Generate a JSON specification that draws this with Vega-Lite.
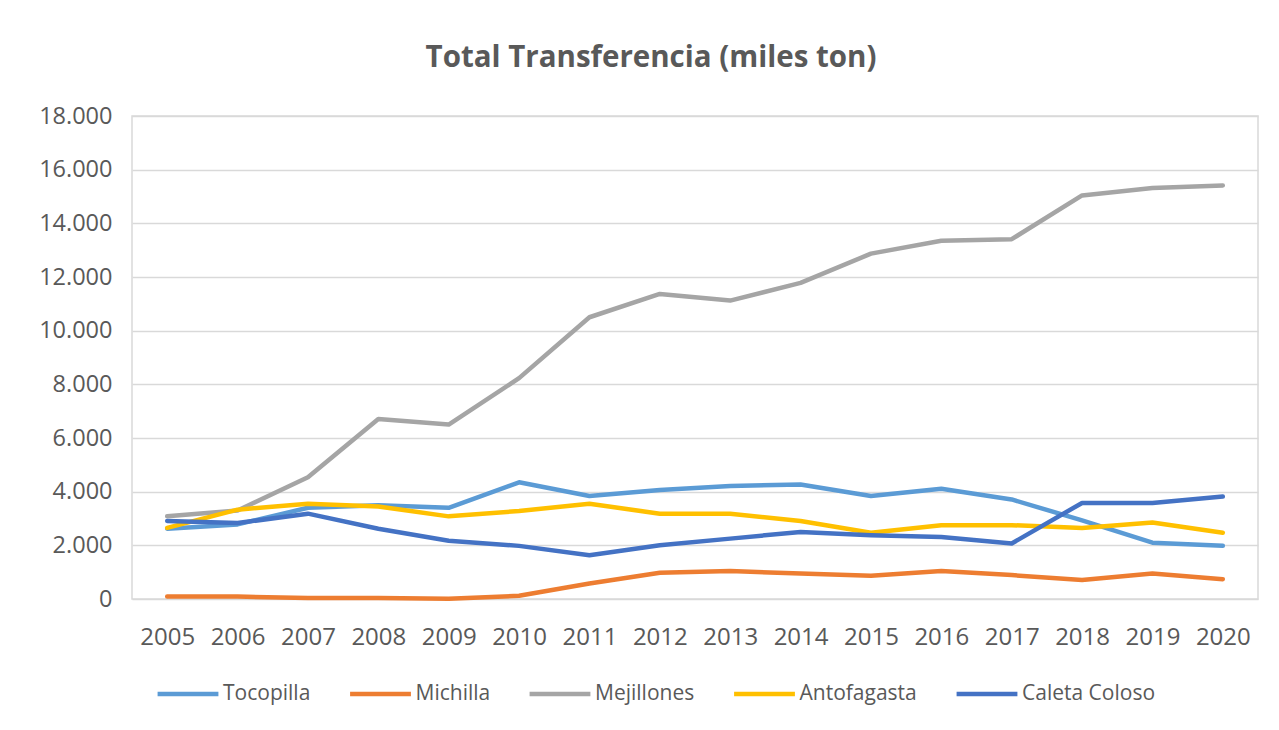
{
  "$schema": "https://vega.github.io/schema/vega-lite/v6.json",
  "autosize": "none",
  "width": 1126,
  "height": 483,
  "padding": {"left": 132, "top": 116, "right": 21, "bottom": 131},
  "background": "white",
  "title": {
    "text": "Total Transferencia (miles ton)",
    "font": "Open Sans",
    "fontSize": 29.5,
    "fontWeight": "bold",
    "color": "#595959",
    "anchor": "middle",
    "dx": -44,
    "offset": 31
  },
  "data": {
    "values": [
      {"year": "2005", "serie": "Tocopilla", "v": 2620},
      {"year": "2006", "serie": "Tocopilla", "v": 2780},
      {"year": "2007", "serie": "Tocopilla", "v": 3400},
      {"year": "2008", "serie": "Tocopilla", "v": 3490},
      {"year": "2009", "serie": "Tocopilla", "v": 3400},
      {"year": "2010", "serie": "Tocopilla", "v": 4350},
      {"year": "2011", "serie": "Tocopilla", "v": 3840},
      {"year": "2012", "serie": "Tocopilla", "v": 4060},
      {"year": "2013", "serie": "Tocopilla", "v": 4210},
      {"year": "2014", "serie": "Tocopilla", "v": 4270},
      {"year": "2015", "serie": "Tocopilla", "v": 3840},
      {"year": "2016", "serie": "Tocopilla", "v": 4110},
      {"year": "2017", "serie": "Tocopilla", "v": 3710},
      {"year": "2018", "serie": "Tocopilla", "v": 2930},
      {"year": "2019", "serie": "Tocopilla", "v": 2100},
      {"year": "2020", "serie": "Tocopilla", "v": 1980},
      {"year": "2005", "serie": "Michilla", "v": 90},
      {"year": "2006", "serie": "Michilla", "v": 90},
      {"year": "2007", "serie": "Michilla", "v": 40},
      {"year": "2008", "serie": "Michilla", "v": 40},
      {"year": "2009", "serie": "Michilla", "v": 10},
      {"year": "2010", "serie": "Michilla", "v": 120},
      {"year": "2011", "serie": "Michilla", "v": 580},
      {"year": "2012", "serie": "Michilla", "v": 980},
      {"year": "2013", "serie": "Michilla", "v": 1040},
      {"year": "2014", "serie": "Michilla", "v": 950},
      {"year": "2015", "serie": "Michilla", "v": 870},
      {"year": "2016", "serie": "Michilla", "v": 1040},
      {"year": "2017", "serie": "Michilla", "v": 890},
      {"year": "2018", "serie": "Michilla", "v": 710},
      {"year": "2019", "serie": "Michilla", "v": 950},
      {"year": "2020", "serie": "Michilla", "v": 740},
      {"year": "2005", "serie": "Mejillones", "v": 3080},
      {"year": "2006", "serie": "Mejillones", "v": 3300},
      {"year": "2007", "serie": "Mejillones", "v": 4540},
      {"year": "2008", "serie": "Mejillones", "v": 6710},
      {"year": "2009", "serie": "Mejillones", "v": 6500},
      {"year": "2010", "serie": "Mejillones", "v": 8230},
      {"year": "2011", "serie": "Mejillones", "v": 10500},
      {"year": "2012", "serie": "Mejillones", "v": 11370},
      {"year": "2013", "serie": "Mejillones", "v": 11120},
      {"year": "2014", "serie": "Mejillones", "v": 11780},
      {"year": "2015", "serie": "Mejillones", "v": 12870},
      {"year": "2016", "serie": "Mejillones", "v": 13350},
      {"year": "2017", "serie": "Mejillones", "v": 13410},
      {"year": "2018", "serie": "Mejillones", "v": 15040},
      {"year": "2019", "serie": "Mejillones", "v": 15320},
      {"year": "2020", "serie": "Mejillones", "v": 15410},
      {"year": "2005", "serie": "Antofagasta", "v": 2650},
      {"year": "2006", "serie": "Antofagasta", "v": 3330},
      {"year": "2007", "serie": "Antofagasta", "v": 3550},
      {"year": "2008", "serie": "Antofagasta", "v": 3450},
      {"year": "2009", "serie": "Antofagasta", "v": 3080},
      {"year": "2010", "serie": "Antofagasta", "v": 3280},
      {"year": "2011", "serie": "Antofagasta", "v": 3550},
      {"year": "2012", "serie": "Antofagasta", "v": 3180},
      {"year": "2013", "serie": "Antofagasta", "v": 3180},
      {"year": "2014", "serie": "Antofagasta", "v": 2910},
      {"year": "2015", "serie": "Antofagasta", "v": 2470},
      {"year": "2016", "serie": "Antofagasta", "v": 2750},
      {"year": "2017", "serie": "Antofagasta", "v": 2750},
      {"year": "2018", "serie": "Antofagasta", "v": 2650},
      {"year": "2019", "serie": "Antofagasta", "v": 2850},
      {"year": "2020", "serie": "Antofagasta", "v": 2470},
      {"year": "2005", "serie": "Caleta Coloso", "v": 2910},
      {"year": "2006", "serie": "Caleta Coloso", "v": 2830},
      {"year": "2007", "serie": "Caleta Coloso", "v": 3180},
      {"year": "2008", "serie": "Caleta Coloso", "v": 2620},
      {"year": "2009", "serie": "Caleta Coloso", "v": 2170},
      {"year": "2010", "serie": "Caleta Coloso", "v": 1980},
      {"year": "2011", "serie": "Caleta Coloso", "v": 1630},
      {"year": "2012", "serie": "Caleta Coloso", "v": 2000},
      {"year": "2013", "serie": "Caleta Coloso", "v": 2250},
      {"year": "2014", "serie": "Caleta Coloso", "v": 2500},
      {"year": "2015", "serie": "Caleta Coloso", "v": 2380},
      {"year": "2016", "serie": "Caleta Coloso", "v": 2310},
      {"year": "2017", "serie": "Caleta Coloso", "v": 2070},
      {"year": "2018", "serie": "Caleta Coloso", "v": 3580},
      {"year": "2019", "serie": "Caleta Coloso", "v": 3580},
      {"year": "2020", "serie": "Caleta Coloso", "v": 3820}
    ]
  },
  "mark": {"type": "line", "strokeWidth": 4.5, "strokeCap": "round", "strokeJoin": "round"},
  "encoding": {
    "x": {
      "field": "year",
      "type": "ordinal",
      "scale": {"type": "point", "padding": 0.5},
      "axis": {
        "title": null,
        "labelAngle": 0,
        "domain": false,
        "ticks": false,
        "labelFont": "Open Sans",
        "labelFontSize": 24,
        "labelColor": "#595959",
        "labelPadding": 26
      }
    },
    "y": {
      "field": "v",
      "type": "quantitative",
      "scale": {"domain": [0, 18000]},
      "axis": {
        "title": null,
        "values": [0, 2000, 4000, 6000, 8000, 10000, 12000, 14000, 16000, 18000],
        "labelExpr": "replace(format(datum.value, ','), ',', '.')",
        "domain": false,
        "ticks": false,
        "gridColor": "#d9d9d9",
        "gridWidth": 1.5,
        "labelFont": "Open Sans",
        "labelFontSize": 23.5,
        "labelColor": "#595959",
        "labelPadding": 20
      }
    },
    "color": {
      "field": "serie",
      "type": "nominal",
      "sort": ["Tocopilla", "Michilla", "Mejillones", "Antofagasta", "Caleta Coloso"],
      "scale": {
        "domain": ["Tocopilla", "Michilla", "Mejillones", "Antofagasta", "Caleta Coloso"],
        "range": ["#5B9BD5", "#ED7D31", "#A5A5A5", "#FFC000", "#4472C4"]
      },
      "legend": {
        "title": null,
        "orient": "none",
        "direction": "horizontal",
        "legendX": 23,
        "legendY": 545,
        "symbolType": "stroke",
        "symbolSize": 3700,
        "symbolStrokeWidth": 4.5,
        "labelFont": "Open Sans",
        "labelFontSize": 21,
        "labelColor": "#595959",
        "labelOffset": 2,
        "columnPadding": 29.5
      }
    }
  },
  "config": {
    "view": {"stroke": "#d9d9d9", "strokeWidth": 1.5}
  }
}
